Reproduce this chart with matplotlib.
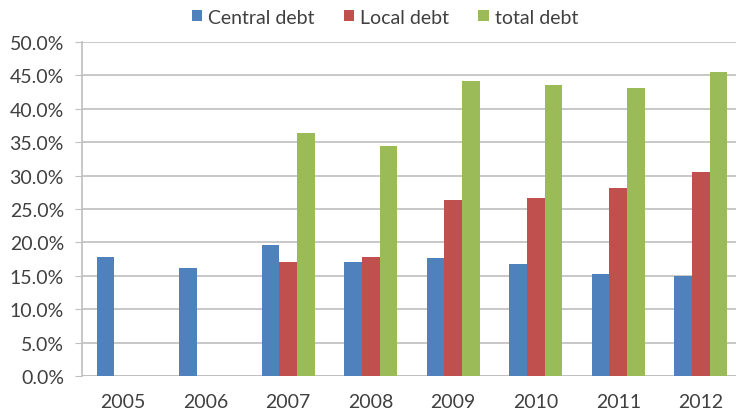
import numpy as np
import matplotlib.pyplot as plt
from matplotlib.ticker import PercentFormatter

# Data
years = ['2005', '2006', '2007', '2008', '2009', '2010', '2011', '2012']
central_debt = [17.8, 16.2, 19.6, 17.0, 17.7, 16.8, 15.3, 14.9]
local_debt = [np.nan, np.nan, 17.0, 17.8, 26.4, 26.6, 28.1, 30.5]
total_debt = [np.nan, np.nan, 36.4, 34.5, 44.1, 43.5, 43.1, 45.5]

plt.rcParams['font.family'] = ['Lato', 'DejaVu Sans']
text_color = '#404040'

fig = plt.figure(figsize=(7.36, 4.14), dpi=100)
# axes run past the right edge, like the cropped original
ax = fig.add_axes([82 / 736, 37 / 414, 660 / 736, 334 / 414])

x = np.arange(len(years))
w = 0.215
ax.bar(x - w, central_debt, w, color='#4F81BD', label='Central debt', zorder=3)
ax.bar(x, local_debt, w, color='#C0504D', label='Local debt', zorder=3)
ax.bar(x + w, total_debt, w, color='#9BBB59', label='total debt', zorder=3)

ax.set_xlim(-0.5, len(years) - 0.5)
ax.set_ylim(0, 50)
ax.set_yticks(np.arange(0, 50.1, 5))
ax.yaxis.set_major_formatter(PercentFormatter(decimals=1))
ax.set_xticks(x)
ax.set_xticklabels(years)

ax.grid(axis='y', color='#BFBFBF', linewidth=1.2, zorder=0)
for side in ['top', 'right', 'bottom']:
    ax.spines[side].set_visible(False)
ax.spines['left'].set_color('#BFBFBF')
ax.spines['left'].set_linewidth(1.2)
ax.axhline(0, color='#BFBFBF', linewidth=1.2, zorder=2)

ax.tick_params(axis='y', length=5, color='#BFBFBF', labelsize=14, labelcolor=text_color, pad=8)
ax.tick_params(axis='x', length=0, labelsize=14, labelcolor=text_color, pad=12)

fig.legend(loc='center', bbox_to_anchor=(385 / 736, 1 - 18 / 414), ncol=3, frameon=False,
           fontsize=14, labelcolor=text_color, handlelength=0.55, handleheight=0.55,
           handletextpad=0.3, columnspacing=1.5, borderpad=0)

fig.savefig('out.png', dpi=100)
